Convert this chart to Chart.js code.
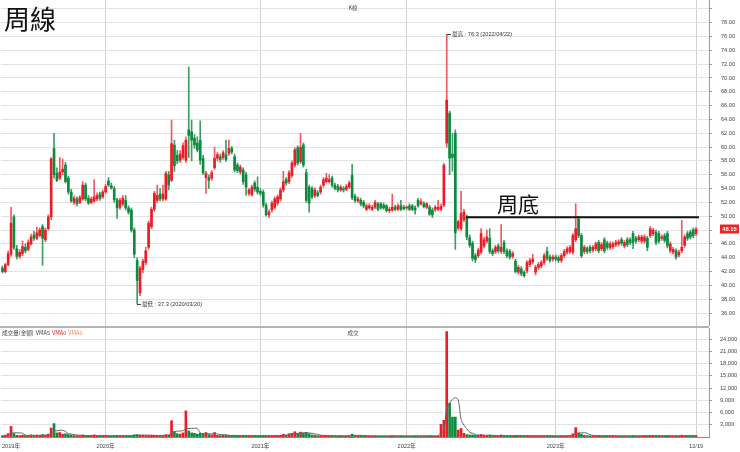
<!DOCTYPE html>
<html><head><meta charset="utf-8">
<script src="https://cdn.jsdelivr.net/npm/chart.js@4.4.0/dist/chart.umd.min.js"></script>
<style>
html,body{margin:0;padding:0;background:#fff;}
#wrap{position:relative;width:740px;height:452px;overflow:hidden;background:#fff;}
#pc{position:absolute;left:0;top:0;}
#vc{position:absolute;left:0;top:326px;}
</style></head><body>
<div id="wrap"><canvas id="pc" width="740" height="326"></canvas><canvas id="vc" width="740" height="126"></canvas></div>
<script>
// ---- weekly OHLC (index 0 = first week shown, last = week of 12/19) ----
const openP = [
42.5,42.0,43.0,44.5,49.9,45.3,44.2,44.6,45.5,45.2,
46.0,47.3,46.8,47.2,48.5,46.6,48.2,49.9,59.8,56.2,
55.5,56.4,57.4,55.5,53.5,52.0,52.5,52.0,52.5,54.5,
52.6,52.0,52.2,52.5,53.2,52.8,53.5,55.1,54.4,54.0,
52.4,51.3,51.8,52.3,51.2,50.9,48.0,43.6,38.9,42.3,
43.3,45.5,48.5,51.0,52.3,53.2,52.5,52.5,56.0,55.2,
60.3,58.8,58.1,58.5,58.1,62.5,62.2,61.3,60.6,61.0,
58.4,55.6,55.6,55.5,57.0,58.4,58.6,58.5,58.9,59.1,
59.8,58.6,57.4,56.4,56.7,56.0,53.3,53.1,54.8,54.2,
53.6,53.5,51.6,50.2,50.9,51.3,51.9,52.5,53.8,55.3,
55.0,55.9,57.4,59.9,57.9,60.3,56.3,54.2,54.0,53.0,
53.4,53.5,54.5,55.0,55.0,55.5,54.5,54.3,53.8,54.0,
53.9,54.2,55.9,52.9,52.2,52.3,52.0,51.0,51.2,51.0,
51.3,51.8,51.8,51.6,51.5,50.8,50.9,51.3,51.0,51.5,
51.3,51.2,51.5,51.5,51.2,52.3,51.8,51.8,51.3,51.3,
50.9,51.0,51.0,51.0,51.6,60.6,64.9,59.0,62.0,48.3,
48.2,49.5,49.8,46.9,46.1,44.3,44.3,44.8,45.7,46.4,
46.8,45.0,44.9,45.7,44.9,46.2,45.0,44.9,44.2,43.5,
41.9,42.4,41.9,42.1,43.0,43.4,41.9,42.6,42.8,43.3,
44.9,44.1,43.8,44.1,44.0,43.6,44.3,44.8,44.9,44.8,
46.6,49.6,47.2,44.9,45.3,45.5,45.1,45.3,46.2,45.3,
46.6,46.1,45.5,45.6,45.9,46.0,46.6,45.7,46.6,46.6,
47.5,46.8,46.6,46.4,46.4,46.8,47.2,47.5,47.7,47.5,
46.8,47.2,47.5,45.0,44.8,45.0,44.4,45.0,45.8,47.5,
47.7,48.0,47.5];
const highP = [
42.8,43.2,45.0,51.3,50.2,45.8,45.2,46.4,46.0,46.6,
47.4,47.8,48.4,48.3,48.8,48.3,50.2,58.5,62.0,57.0,
58.5,58.3,57.8,55.8,53.9,52.9,52.8,53.0,55.0,54.8,
53.0,52.8,55.3,53.4,53.5,53.8,54.6,55.6,54.8,54.3,
52.6,52.6,53.0,53.0,51.5,51.2,48.3,44.0,42.8,43.8,
45.5,49.3,51.3,53.6,54.5,54.0,54.5,56.5,56.5,63.9,
61.0,59.5,59.5,60.6,61.5,71.6,63.9,61.8,61.5,63.8,
58.8,56.5,56.0,56.6,60.0,59.2,59.0,59.5,61.0,61.0,
60.1,59.0,57.7,57.4,57.0,56.4,54.0,54.5,55.1,55.7,
54.0,53.8,51.9,50.9,52.2,52.8,53.1,54.1,56.5,55.6,
56.6,58.0,59.9,60.2,62.0,60.6,56.8,54.5,54.3,54.1,
53.7,54.5,55.6,56.2,56.0,55.8,54.8,54.6,54.5,54.3,
54.6,55.1,57.5,53.2,52.8,52.6,52.3,51.8,51.8,51.6,
52.3,52.0,52.0,51.9,51.7,51.3,53.2,51.6,51.8,52.3,
51.6,51.5,51.8,51.7,51.5,52.6,52.5,52.1,52.0,51.6,
51.2,51.6,52.3,51.8,57.6,76.3,65.2,62.0,62.5,49.4,
53.6,51.0,50.2,47.3,46.4,44.6,45.4,48.2,47.0,48.0,
48.2,45.3,45.8,46.0,48.8,46.5,45.3,45.2,44.9,43.8,
42.9,42.7,42.1,43.6,43.9,44.5,42.9,43.3,43.6,44.6,
45.5,44.4,44.4,44.4,44.3,44.6,45.2,45.6,45.8,47.5,
51.8,50.0,47.5,45.8,45.6,45.8,45.8,46.3,46.5,46.2,
46.9,46.4,46.3,46.3,46.5,46.6,46.9,46.5,46.9,46.9,
47.8,47.1,47.3,47.3,47.3,47.1,48.5,48.3,48.0,47.8,
47.3,47.5,47.8,46.3,45.5,45.3,45.1,49.4,47.3,47.8,
48.0,48.3,48.4];
const lowP = [
41.8,41.8,42.8,44.2,45.2,43.8,43.9,44.3,44.7,45.0,
45.8,46.5,46.6,47.0,42.9,46.3,48.0,49.5,55.5,55.0,
55.3,56.0,54.8,53.2,52.0,51.7,51.5,51.8,52.3,52.2,
51.7,51.8,52.0,52.2,52.3,52.6,53.3,54.3,53.9,52.0,
49.7,51.0,51.5,50.9,50.3,47.7,44.0,37.3,38.5,41.8,
43.0,45.2,48.2,50.7,52.0,52.2,52.2,52.3,53.8,55.0,
56.5,57.6,57.8,58.2,57.8,58.5,58.0,59.8,59.3,57.5,
56.0,53.3,54.0,55.2,56.8,58.0,57.8,58.2,57.9,58.8,
59.0,56.4,56.3,56.1,54.6,53.0,53.0,52.9,53.6,53.2,
53.0,51.3,50.0,49.8,50.6,51.0,51.6,52.2,53.5,54.5,
54.7,55.6,57.1,57.4,57.6,57.1,52.0,50.6,52.5,52.7,
52.8,53.2,54.2,54.8,54.8,54.2,53.8,53.5,53.6,53.5,
53.7,54.0,52.4,52.0,52.0,51.5,51.2,50.8,51.0,50.8,
51.1,50.8,51.0,51.0,50.6,50.5,50.7,50.8,50.8,50.8,
50.9,50.9,50.8,50.8,50.3,51.3,51.6,51.2,51.1,50.1,
49.8,50.7,50.8,50.8,51.4,60.0,56.0,56.5,45.2,48.0,
47.9,49.2,46.6,45.5,43.5,43.3,44.0,44.5,45.4,46.1,
44.6,44.3,44.6,44.7,44.6,44.6,44.0,43.8,43.9,41.8,
41.6,41.4,41.2,41.8,42.7,43.1,41.5,42.3,42.5,43.0,
43.6,43.3,43.5,43.5,43.3,43.3,44.0,44.5,44.6,44.5,
46.3,46.9,44.0,44.6,44.6,44.7,44.8,45.0,44.7,45.0,
44.7,45.2,45.2,45.3,45.6,45.7,45.8,45.4,45.6,45.9,
45.3,46.1,46.3,46.1,46.1,45.0,46.9,47.2,45.9,46.1,
46.5,46.2,45.4,44.7,44.5,43.8,44.1,44.7,45.5,46.5,
46.7,46.9,47.2];
const closeP = [
42.0,43.0,44.6,49.0,45.5,44.2,44.8,45.6,45.0,46.2,
47.0,46.8,47.6,48.0,46.8,48.0,49.9,58.3,56.0,55.2,
56.4,56.8,55.0,53.5,52.2,52.6,51.8,52.7,54.5,52.5,
51.9,52.5,52.8,53.0,52.6,53.5,54.3,54.5,54.1,52.4,
51.2,52.3,52.6,51.2,50.6,48.0,44.5,40.7,42.5,43.5,
45.0,49.0,51.0,53.3,53.0,52.5,53.2,56.2,54.5,60.5,
57.3,58.0,59.0,60.2,61.0,61.7,61.0,60.3,59.6,58.1,
56.3,56.2,55.2,56.3,58.4,58.9,58.2,59.2,58.2,59.8,
59.3,56.7,56.6,57.1,55.0,54.2,53.8,54.2,53.9,53.5,
53.3,51.6,50.2,50.6,51.9,52.5,52.8,53.8,55.0,54.8,
56.3,57.7,59.6,57.7,60.0,57.4,52.3,51.9,52.8,53.8,
53.0,54.2,55.3,55.5,55.3,54.5,54.0,53.8,54.2,53.8,
54.3,54.8,52.7,52.3,52.5,51.8,51.5,51.5,51.5,51.3,
52.0,51.0,51.2,51.2,50.8,51.0,51.3,51.0,51.5,51.0,
51.1,51.3,51.0,51.0,50.9,51.5,52.1,51.4,51.8,50.3,
50.2,51.3,51.3,51.4,57.4,66.8,58.4,58.5,47.6,49.2,
50.4,50.6,47.0,45.8,43.9,43.7,45.1,47.5,46.6,47.0,
44.9,44.6,45.5,45.0,45.5,44.9,44.3,44.1,44.6,42.0,
42.6,41.7,41.4,43.3,43.6,43.8,42.6,43.0,43.3,44.3,
43.9,43.6,44.1,43.8,43.6,44.3,44.9,45.3,45.5,47.2,
48.2,47.2,44.3,45.5,44.9,45.0,45.5,46.0,45.0,45.9,
45.0,45.5,46.0,46.0,46.2,46.3,46.1,46.2,45.9,46.2,
46.2,46.4,47.0,47.0,47.0,45.5,48.2,48.0,46.2,46.4,
47.0,46.5,45.7,46.0,45.2,44.1,44.8,45.5,47.0,46.8,
47.0,47.2,48.15];
// weekly traded value (成交量 金額)
const volume = [
300,450,850,2600,850,400,350,450,350,400,
500,350,450,400,600,450,700,2200,3300,1000,
1100,700,800,600,500,350,300,350,500,400,
300,300,500,350,300,300,350,300,250,350,
400,300,300,300,300,400,550,600,450,400,
350,400,450,400,350,300,350,600,500,4000,
1300,800,700,1000,6400,1500,1000,900,700,900,
700,1100,600,500,1100,400,350,400,450,400,
350,400,350,300,350,400,300,300,350,300,
300,350,400,300,300,350,350,400,700,450,
800,900,1300,900,1200,900,1100,800,500,400,
300,350,400,350,300,300,250,250,300,250,
300,350,700,400,300,300,250,300,250,250,
300,250,250,250,250,250,350,250,250,300,
250,250,250,250,300,300,250,250,250,300,
300,250,300,3100,4100,25900,8300,4900,4900,1700,
2100,900,600,500,500,400,400,600,400,350,
450,350,300,300,500,350,300,300,250,400,
350,300,300,350,300,300,300,250,300,300,
350,300,250,250,250,300,300,300,350,800,
2300,1000,700,400,350,300,300,350,350,300,
350,300,300,300,250,250,250,300,250,300,
350,250,250,300,350,300,400,350,300,300,
250,300,350,300,250,300,250,450,350,300,
300,300,350];

// ---- axes / labels ----
const TOTAL_SLOTS = 247;
const yearTickIdx = [3, 36, 90, 141, 193, 242];
const yearTickLabels = ['2019年', '2020年', '2021年', '2022年', '2023年', '12/19'];
const priceTicks = [36,38,40,42,44,46,48,50,52,54,56,58,60,62,64,66,68,70,72,74,76,78,80];
const volTicks = [3000,6000,9000,12000,15000,18000,21000,24000];
const supportFromIdx = 161.7, supportToIdx = 243.0, supportValue = 49.85;
const chartTitle = '周線', supportText = '周底';
const maxDate = '2022/04/22', minDate = '2020/03/20';
const pricePanelName = 'K線', volPanelName = '成交';
const volLegend = [['成交量(金額)', '#444'], ['VMA5', '#444'], ['VMA0', '#e02424'], ['VMA0', '#f08a5d']];

const FONT = "'Liberation Sans', 'Noto Sans CJK TC', sans-serif";
const CJK = "'Noto Sans CJK TC', sans-serif";
Chart.defaults.font.family = FONT;

const RED = '#ec1c24', GREEN = '#0c8a3e', RED_W = '#f0595e', GREEN_W = '#3f9c63';
const idx = closeP.map((_, i) => i);
const isUp = i => closeP[i] >= openP[i];
const vma5 = volume.map((_, i) => {
  const s = volume.slice(Math.max(0, i - 4), i + 1);
  return s.reduce((a, b) => a + b, 0) / s.length;
});

const noPad = s => { s.paddingTop = 0; s.paddingBottom = 0; s.paddingLeft = 0; s.paddingRight = 0; };

function xCfg(showLabels) {
  return {
    type: 'linear', min: -0.5, max: TOTAL_SLOTS - 0.5, offset: false,
    afterBuildTicks: s => { s.ticks = yearTickIdx.map(v => ({ value: v })); },
    afterFit: s => { s.height = showLabels ? 15 : 0; noPad(s); },
    ticks: {
      display: showLabels, autoSkip: false, maxRotation: 0, padding: 6,
      font: { size: 5.6, family: FONT }, color: '#444',
      callback: v => yearTickLabels[yearTickIdx.indexOf(v)]
    },
    grid: { offset: false, drawTicks: false, color: c => c.index === 0 ? 'rgba(0,0,0,0)' : '#d0d0d0' },
    border: { display: showLabels, color: '#8a8a8a' }
  };
}

function yCfg(min, max, ticks, fmt, pad) {
  return {
    position: 'right', min, max,
    afterBuildTicks: s => { s.ticks = ticks.map(v => ({ value: v })); },
    afterFit: s => { s.width = 31; noPad(s); },
    ticks: { padding: pad, font: { size: 5.6, family: FONT }, color: '#444', callback: fmt },
    grid: { color: '#e2e2e2', tickColor: '#999', tickLength: 3 },
    border: { color: '#999' }
  };
}

const base = {
  responsive: false, animation: false, events: [],
  plugins: { legend: { display: false }, tooltip: { enabled: false } }
};

const pricePlugin = {
  id: 'priceText',
  afterDraw(chart) {
    const { ctx, scales: { x, y } } = chart;
    ctx.save();
    ctx.fillStyle = '#111';
    ctx.font = '26px ' + CJK;
    ctx.textAlign = 'left'; ctx.textBaseline = 'alphabetic';
    ctx.fillText(chartTitle, 4, 29);
    ctx.font = '21px ' + CJK;
    ctx.fillText(supportText, 497, 212);
    ctx.font = '5.6px ' + CJK; ctx.fillStyle = '#555';
    ctx.textAlign = 'center'; ctx.textBaseline = 'middle';
    ctx.fillText(pricePanelName, 353, 8);
    const hi = Math.max(...highP), lo = Math.min(...lowP);
    const hiI = highP.indexOf(hi), loI = lowP.indexOf(lo);
    ctx.font = '5.6px ' + FONT; ctx.textAlign = 'left'; ctx.fillStyle = '#333';
    ctx.strokeStyle = '#444'; ctx.lineWidth = 1;
    const note = (i, v, txt) => {
      const px = Math.round(x.getPixelForValue(i)), py = Math.round(y.getPixelForValue(v)) + 0.5;
      ctx.beginPath(); ctx.moveTo(px, py); ctx.lineTo(px + 4, py); ctx.stroke();
      ctx.fillText(txt, px + 5, py);
    };
    note(hiI, hi, '最高 : ' + hi + ' (' + maxDate + ')');
    note(loI, lo, '最低 : ' + lo + ' (' + minDate + ')');
    const last = closeP[closeP.length - 1];
    const ly = y.getPixelForValue(last);
    ctx.fillStyle = '#e8262a';
    ctx.fillRect(720, ly - 4.5, 19, 9);
    ctx.fillStyle = '#fff'; ctx.font = 'bold 5.8px ' + FONT; ctx.textAlign = 'center';
    ctx.fillText(last.toFixed(2), 729.5, ly + 0.5);
    ctx.restore();
  }
};

new Chart(document.getElementById('pc'), {
  data: {
    datasets: [
      { type: 'line', data: [{ x: supportFromIdx, y: supportValue }, { x: supportToIdx, y: supportValue }],
        borderColor: '#111', borderWidth: 2, pointRadius: 0, order: -1 },
      { type: 'bar', data: idx.map(i => ({ x: i, y: [openP[i], closeP[i]] })),
        backgroundColor: idx.map(i => isUp(i) ? RED : GREEN),
        barThickness: 2, minBarLength: 1, grouped: false, order: 0 },
      { type: 'bar', data: idx.map(i => ({ x: i, y: [lowP[i], highP[i]] })),
        backgroundColor: idx.map(i => isUp(i) ? RED_W : GREEN_W),
        barThickness: 1, grouped: false, order: 1 }
    ]
  },
  options: Object.assign({}, base, {
    layout: { autoPadding: false, padding: { left: 1, right: 0, top: 0, bottom: 0 } },
    scales: {
      x: xCfg(false),
      y: yCfg(34.12, 81.28, priceTicks, v => v === 80 ? '' : v.toFixed(2), 9)
    }
  }),
  plugins: [pricePlugin]
});

const volPlugin = {
  id: 'volText',
  afterDraw(chart) {
    const { ctx } = chart;
    ctx.save();
    ctx.fillStyle = '#b4b4b4';
    ctx.fillRect(0, 0, 709, 2);
    ctx.font = '5.6px ' + CJK; ctx.textBaseline = 'middle'; ctx.textAlign = 'left';
    let px = 2;
    volLegend.forEach(([t, c]) => {
      ctx.fillStyle = c; ctx.fillText(t, px, 7);
      px += ctx.measureText(t).width + 2;
    });
    ctx.fillStyle = '#555'; ctx.textAlign = 'center';
    ctx.fillText(volPanelName, 353, 7);
    ctx.restore();
  }
};

new Chart(document.getElementById('vc'), {
  data: {
    datasets: [
      { type: 'line', data: idx.map(i => ({ x: i, y: vma5[i] })),
        borderColor: '#666', borderWidth: 1, pointRadius: 0, tension: 0.3, order: 0 },
      { type: 'bar', data: idx.map(i => ({ x: i, y: volume[i] })),
        backgroundColor: idx.map(i => isUp(i) ? RED : GREEN),
        barThickness: 2, order: 1 }
    ]
  },
  options: Object.assign({}, base, {
    layout: { autoPadding: false, padding: { left: 1, right: 0, top: 2, bottom: 0 } },
    scales: {
      x: xCfg(true),
      y: yCfg(0, 26780, volTicks, v => v.toLocaleString('en-US'), 8)
    }
  }),
  plugins: [volPlugin]
});
</script>
</body></html>
